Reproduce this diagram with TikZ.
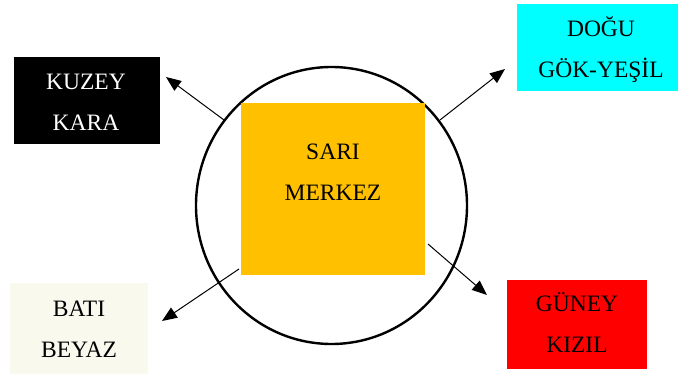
\documentclass[tikz,border=0pt]{standalone}
\usepackage{fontspec}
\setmainfont{Liberation Serif}
\usetikzlibrary{arrows.meta,shapes.geometric}
\definecolor{sari}{HTML}{FFC000}
\definecolor{gok}{HTML}{00FFFF}
\definecolor{kizil}{HTML}{FF0000}
\definecolor{beyaz}{HTML}{FAF9EE}
\begin{document}
\begin{tikzpicture}[x=1pt,y=-1pt,
  box/.style={rectangle,inner sep=0pt},
  lbl/.style={inner sep=0pt,align=center,font=\fontsize{23.5}{41}\selectfont},
  arr/.style={line width=1pt,-{Triangle[length=15pt,width=12pt]}}]
\useasboundingbox (0,0) rectangle (678,377);
\fill[white] (0,0) rectangle (678,377);
\node[draw=black,line width=2.4pt,ellipse,minimum width=271pt,minimum height=277pt,inner sep=0pt] (circ) at (331.5,205.5) {};
\node[box,fill=sari,minimum width=184pt,minimum height=172pt] (sq) at (333,189) {};
\node[lbl] (sqt) at (333,172.7) {SARI\\MERKEZ};
\node[box,fill=black,minimum width=146pt,minimum height=87pt] (kuzey) at (87,100.5) {};
\node[lbl,text=white] (kuzeyt) at (86,102.7) {KUZEY\\KARA};
\node[box,fill=gok,minimum width=166pt,minimum height=87pt] (dogu) at (600,47.5) {};
\node[lbl] (dogut) at (601,49.5) {DOĞU\\GÖK-YEŞİL};
\node[box,fill=beyaz,minimum width=138pt,minimum height=91pt] (bati) at (79,328.5) {};
\node[lbl] (batit) at (79,329.7) {BATI\\BEYAZ};
\node[box,fill=kizil,minimum width=140pt,minimum height=89pt] (guney) at (577,324.5) {};
\node[lbl] (guneyt) at (577,322.5) {GÜNEY\\KIZIL};
\coordinate (s1) at (224,120);
\coordinate (e1) at (166,77);
\coordinate (s2) at (440,120);
\coordinate (e2) at (505,69);
\coordinate (s3) at (239,269);
\coordinate (e3) at (162,321);
\coordinate (s4) at (428,244);
\coordinate (e4) at (487,295);
\draw[arr] (s1) -- (e1);
\draw[arr] (s2) -- (e2);
\draw[arr] (s3) -- (e3);
\draw[arr] (s4) -- (e4);
\end{tikzpicture}
\end{document}
